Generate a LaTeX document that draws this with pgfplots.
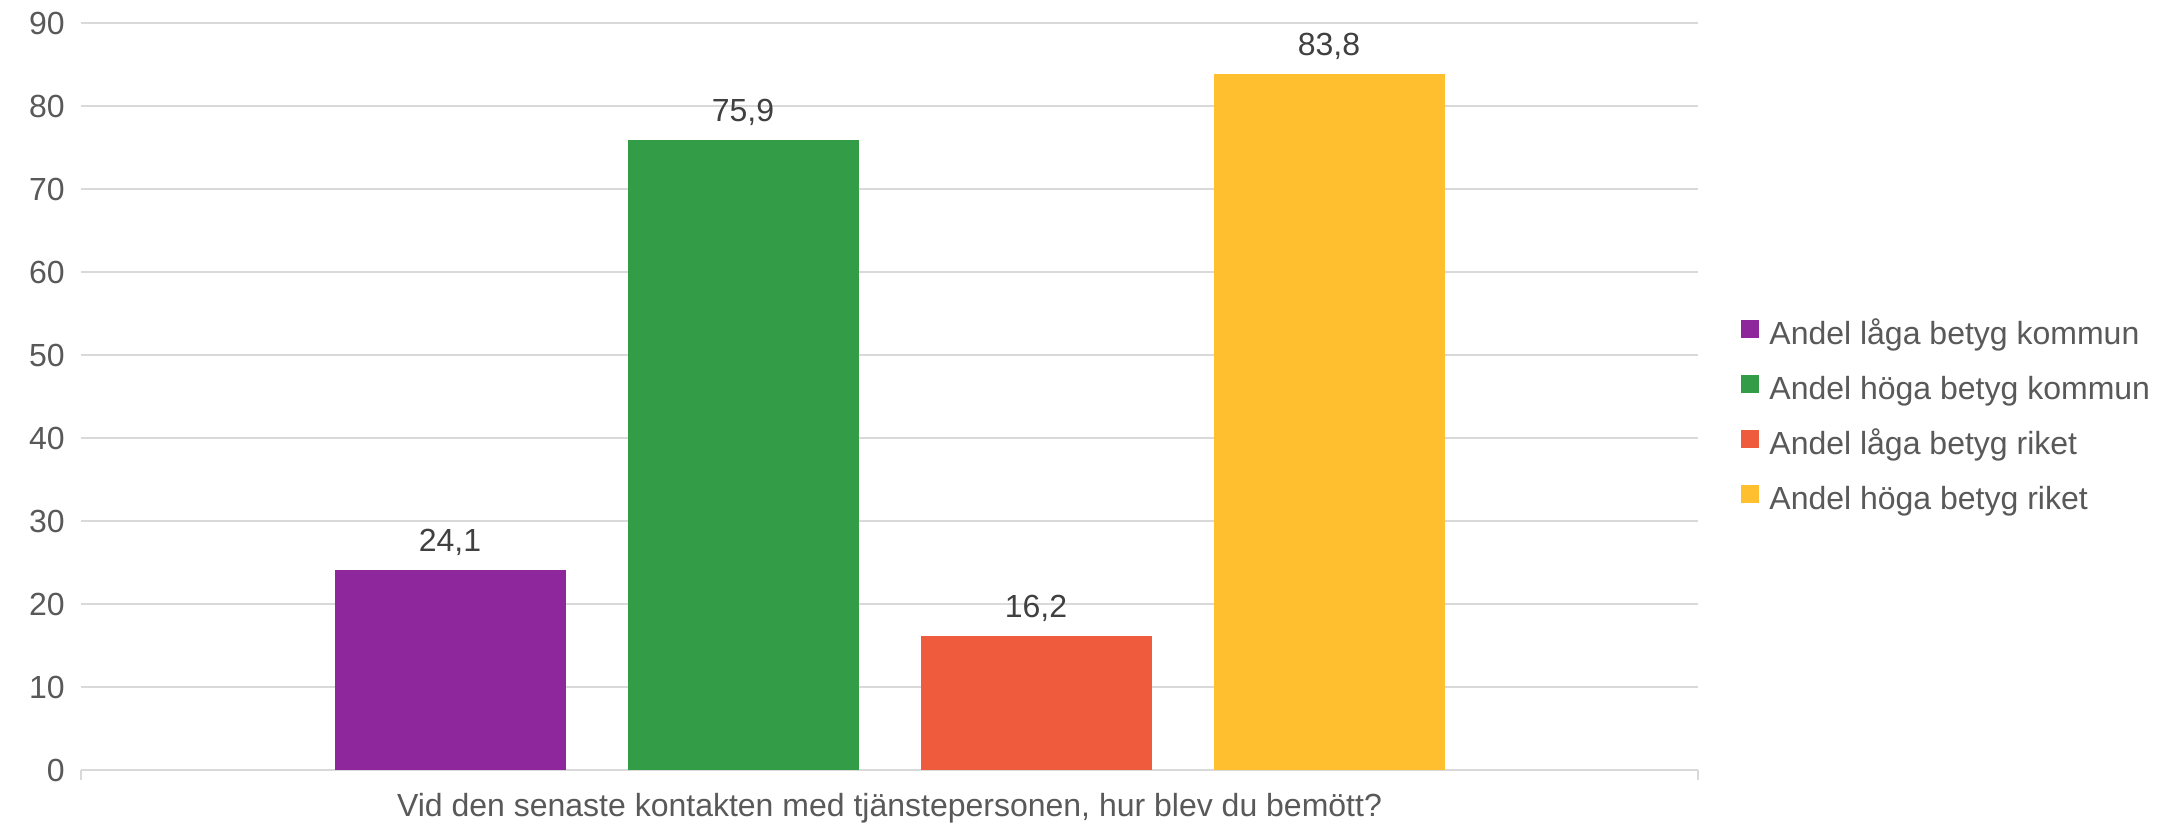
\documentclass[border=0pt]{standalone}
\usepackage{pgfplots}
\pgfplotsset{compat=1.18}
\usepackage{fontspec}
\setmainfont{Liberation Sans}
\definecolor{cA}{HTML}{8E279B}
\definecolor{cB}{HTML}{339C46}
\definecolor{cC}{HTML}{EF5B3D}
\definecolor{cD}{HTML}{FFBF2F}
\definecolor{gridc}{HTML}{D9D9D9}
\definecolor{tickc}{HTML}{595959}
\definecolor{valc}{HTML}{404040}
\pgfplotsset{sqleg/.style={legend image code/.code={\fill[##1,draw=none] (0pt,-0.5pt) rectangle (9pt,8.5pt); \path (14pt,0pt);}}}
\begin{document}
\begin{tikzpicture}
\begin{axis}[
  scale only axis,
  width=808.5pt, height=373.5pt,
  xmin=-1, xmax=1, ymin=0, ymax=90,
  ytick={0,10,...,90},
  xtick={-1,1}, xticklabels={,},
  axis lines*=left,
  y axis line style={draw=none},
  x axis line style={draw=gridc, line width=1pt},
  xtick style={draw=gridc, line width=1pt},
  tick align=outside,
  major tick length=5pt,
  ytick style={draw=none},
  ymajorgrids,
  major grid style={draw=gridc, line width=1pt},
  /pgf/number format/assume math mode=true,
  tick label style={font=\fontsize{16}{19}\selectfont, text=tickc},
  yticklabel style={inner sep=0pt, anchor=east, xshift=-3pt},
  ybar=31pt, bar width=115.5pt,
  nodes near coords={\pgfmathprintnumber[use comma,fixed,fixed zerofill,precision=1]{\pgfplotspointmeta}},
  nodes near coords style={font=\fontsize{16}{19}\selectfont, text=valc, anchor=south, inner sep=0pt, yshift=7pt},
  xlabel={Vid den senaste kontakten med tjänstepersonen, hur blev du bemött?},
  xlabel style={font=\fontsize{16}{19}\selectfont, text=tickc, at={(axis description cs:0.5,0)}, anchor=center, yshift=-19pt},
  legend style={draw=none, at={(axis description cs:1,0.47)}, anchor=west, xshift=21.5pt,
    font=\fontsize{16}{19}\selectfont, text=tickc, inner sep=0pt, row sep=11pt,
    nodes={inner sep=0pt, text height=12pt, text depth=4pt}},
  legend cell align=left,
  legend columns=1,
]
\addplot[fill=cA, draw=none, sqleg] coordinates {(0,24.1)};
\addplot[fill=cB, draw=none, sqleg] coordinates {(0,75.9)};
\addplot[fill=cC, draw=none, sqleg] coordinates {(0,16.2)};
\addplot[fill=cD, draw=none, sqleg] coordinates {(0,83.8)};
\legend{Andel låga betyg kommun, Andel höga betyg kommun, Andel låga betyg riket, Andel höga betyg riket}
\end{axis}
\pgfresetboundingbox
\path[use as bounding box] (-40.5pt,-29pt) rectangle (1044pt,385pt);
\end{tikzpicture}
\end{document}
